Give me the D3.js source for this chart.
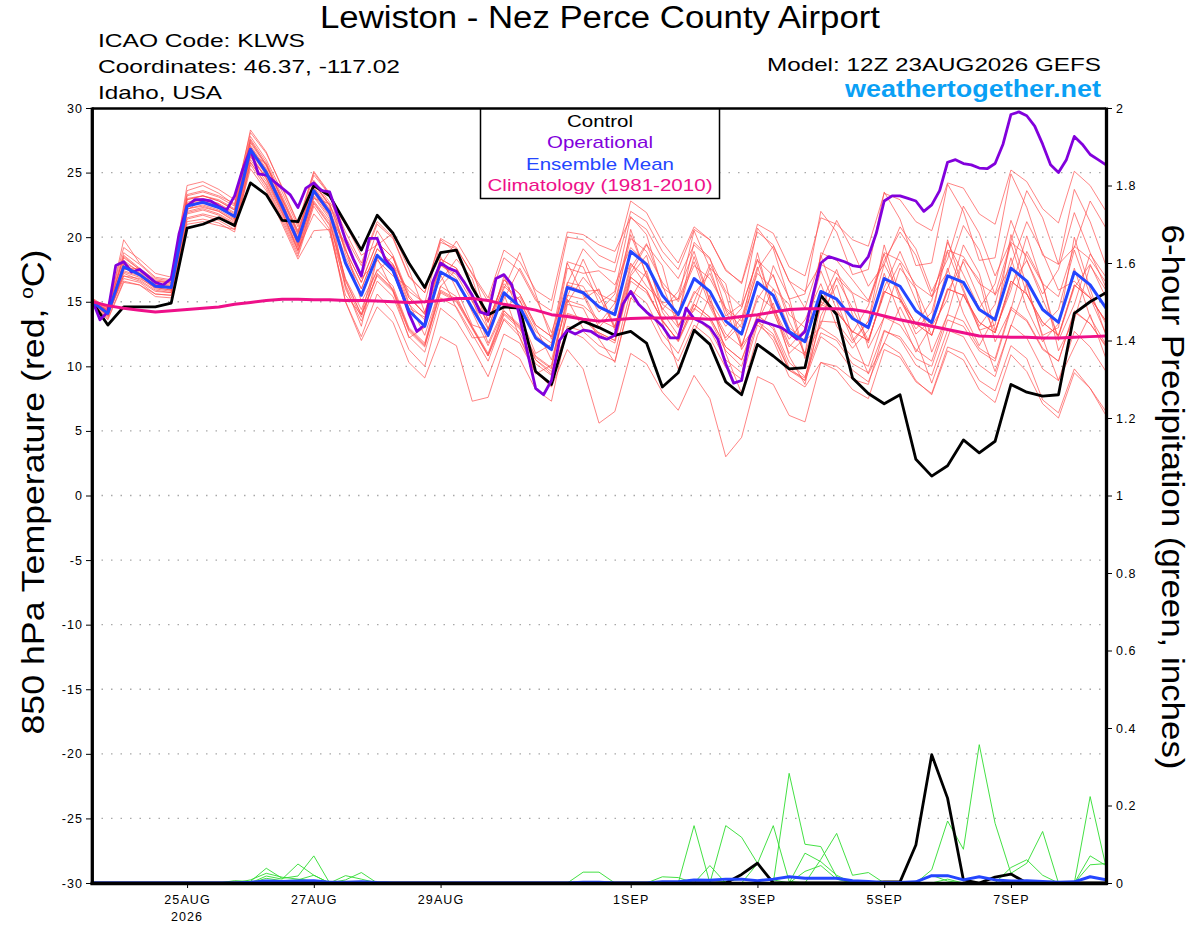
<!DOCTYPE html>
<html>
<head>
<meta charset="utf-8">
<script src="https://cdn.jsdelivr.net/npm/d3@7"></script>
<style>
    body { margin: 0; background: #fff; }
    svg { display: block; font-family: 'Liberation Sans', Arial, Helvetica, sans-serif; }
</style>
</head>
<body>
<svg id="chart" width="1200" height="927"></svg>
<script>
// run start 12Z 23AUG2026, 6-hourly ensemble, 3-hourly operational
var runStart = Date.UTC(2026, 7, 23, 12);
var runEnd = Date.UTC(2026, 8, 8, 12);

var dateTicks = [
    Date.UTC(2026, 7, 25), Date.UTC(2026, 7, 27), Date.UTC(2026, 7, 29),
    Date.UTC(2026, 8, 1), Date.UTC(2026, 8, 3), Date.UTC(2026, 8, 5), Date.UTC(2026, 8, 7)
];
var tempTicks = [30, 25, 20, 15, 10, 5, 0, -5, -10, -15, -20, -25, -30];
var gridValues = [25, 20, 15, 10, 5, 0, -5, -10, -15, -20, -25];
var precipTicks = [0, 0.2, 0.4, 0.6, 0.8, 1, 1.2, 1.4, 1.6, 1.8, 2];

var legendLabels = ['Control', 'Operational', 'Ensemble Mean', 'Climatology (1981-2010)'];

var controlTemp = [
    15.0, 13.2, 14.6, 14.6, 14.6, 14.9, 20.7, 21.0, 21.5, 20.9, 24.2, 23.3, 21.3, 21.2, 24.0, 23.2,
    21.1, 19.0, 21.7, 20.3, 18.0, 16.1, 18.8, 19.0, 16.1, 14.0, 14.6, 14.5, 9.6, 8.6, 12.8, 13.5,
    13.0, 12.4, 12.7, 11.8, 8.4, 9.5, 12.8, 11.7, 8.8, 7.8, 11.7, 10.8, 9.8, 9.9, 15.5, 14.0,
    9.1, 7.9, 7.1, 7.8, 2.8, 1.5, 2.3, 4.3, 3.3, 4.2, 8.6, 8.0, 7.7, 7.8, 14.1, 15.0, 15.7
];

var ensMeanTemp = [
    15.0, 14.1, 17.7, 17.1, 16.2, 16.1, 22.4, 22.7, 22.3, 21.6, 26.8, 25.0, 22.4, 19.7, 23.6, 21.9,
    18.0, 15.5, 18.6, 17.4, 14.3, 13.1, 17.3, 16.6, 14.5, 12.4, 15.7, 14.6, 12.2, 11.3, 16.1, 15.7,
    14.6, 14.0, 18.9, 17.9, 15.5, 14.0, 16.8, 15.8, 13.5, 12.5, 16.5, 15.5, 12.7, 11.9, 15.8, 15.2,
    13.7, 13.0, 16.8, 16.2, 14.3, 13.4, 17.0, 16.5, 14.4, 13.6, 17.6, 16.6, 14.4, 13.4, 17.3, 16.3, 14.5
];

var climatologyTemp = [
    15.0, 14.7, 14.5, 14.35, 14.2, 14.3, 14.4, 14.5, 14.6, 14.8, 14.95, 15.1, 15.2, 15.2, 15.15, 15.15,
    15.1, 15.1, 15.05, 15.0, 14.95, 15.0, 15.1, 15.25, 15.25, 15.1, 14.8, 14.6, 14.35, 14.0, 13.85, 13.65,
    13.5, 13.6, 13.7, 13.75, 13.75, 13.75, 13.7, 13.65, 13.7, 13.85, 14.0, 14.2, 14.4, 14.45, 14.45, 14.45,
    14.4, 14.2, 13.9, 13.6, 13.35, 13.1, 12.85, 12.6, 12.35, 12.3, 12.25, 12.25, 12.2, 12.2, 12.25, 12.3, 12.35
];

// operational run is 3-hourly
var operationalTemp = [
    15.2, 13.6, 14.2, 17.8, 18.1, 17.3, 17.5, 17.0, 16.5, 16.3,
    16.8, 20.3, 22.4, 22.9, 22.9, 22.8, 22.4, 22.1, 23.2, 25.2,
    26.8, 24.9, 24.8, 24.3, 23.8, 23.3, 22.3, 23.8, 24.2, 23.6,
    23.5, 21.7, 19.8, 18.3, 17.0, 19.9, 19.9, 18.3, 17.5, 15.9,
    14.1, 12.7, 13.2, 16.5, 18.0, 17.6, 17.35, 16.5, 15.5, 14.2,
    14.0, 16.8, 17.1, 16.3, 13.8, 11.0, 8.3, 7.8, 8.9, 12.0,
    12.8, 12.5, 12.8, 12.7, 12.3, 12.1, 12.4, 14.8, 15.8, 14.8,
    14.2, 13.7, 13.1, 12.2, 12.2, 14.5, 13.7, 13.4, 13.0, 12.1,
    10.2, 8.7, 8.9, 12.2, 13.6, 13.4, 13.2, 13.0, 12.6, 12.1,
    12.7, 15.5, 18.0, 18.5, 18.3, 18.1, 17.8, 17.7, 18.5, 20.3,
    22.8, 23.2, 23.2, 23.0, 22.8, 22.0, 22.5, 23.6, 25.8, 26.0,
    25.7, 25.6, 25.35, 25.3, 25.7, 27.2, 29.5, 29.7, 29.4, 28.6,
    27.2, 25.6, 25.0, 26.0, 27.8, 27.2, 26.4, 26.0, 25.6
];

var member01 = [
    15.2, 14.6, 19.2, 18.3, 17.2, 16.9, 23.6, 24.0, 23.4, 22.5, 28.3, 26.6, 23.8, 21.0, 25.0, 23.3,
    19.8, 16.9, 20.5, 18.6, 15.5, 14.0, 17.9, 16.8, 14.2, 11.6, 14.3, 13.0, 10.5, 9.4, 14.0, 13.6,
    12.5, 11.8, 16.6, 15.7, 13.6, 11.9, 14.5, 13.6, 11.2, 10.0, 13.9, 13.1, 10.3, 9.2, 12.6, 12.0,
    10.2, 9.5, 12.8, 12.1, 10.1, 9.3, 12.8, 12.3, 10.1, 9.2, 13.2, 12.2, 9.8, 8.9, 12.7, 11.5, 9.6
];
var member02 = [
    14.9, 13.9, 17.3, 16.9, 16.0, 15.8, 22.0, 22.3, 22.0, 21.2, 26.4, 24.6, 22.1, 19.4, 23.2, 21.6,
    19.5, 16.8, 18.2, 17.0, 16.1, 14.9, 16.6, 18.3, 16.8, 12.9, 15.2, 17.6, 15.3, 12.6, 16.4, 19.1,
    17.7, 17.3, 22.0, 21.2, 18.9, 17.5, 20.6, 19.8, 17.4, 16.5, 21.0, 20.3, 17.7, 17.0, 21.5, 21.0,
    19.8, 19.3, 23.4, 22.9, 21.2, 20.5, 24.2, 23.8, 21.8, 21.0, 25.2, 24.3, 22.2, 21.1, 25.1, 24.0, 22.0
];
var member03 = [
    15.0, 14.3, 17.0, 16.8, 16.1, 15.9, 21.8, 22.1, 21.7, 21.0, 26.0, 24.3, 21.8, 19.0, 22.8, 21.2,
    16.8, 14.4, 17.5, 16.2, 13.0, 11.8, 16.2, 15.4, 13.0, 10.8, 13.6, 12.3, 9.6, 8.4, 11.3, 9.8,
    5.6, 6.5, 11.0, 10.2, 8.0, 6.6, 9.3, 7.5, 3.0, 4.5, 9.2, 8.6, 6.2, 5.7, 10.3, 10.0,
    9.0, 8.6, 12.7, 12.3, 10.6, 10.0, 13.6, 13.1, 11.2, 10.4, 14.4, 13.5, 11.3, 10.4, 14.2, 13.3, 11.6
];
var member04 = [
    14.8, 13.8, 17.2, 16.7, 15.9, 15.7, 21.5, 21.8, 21.5, 20.8, 25.8, 24.1, 21.6, 18.9, 22.7, 21.0,
    16.7, 14.0, 17.1, 15.9, 12.8, 11.6, 15.8, 15.1, 13.0, 10.9, 14.1, 13.1, 10.7, 9.8, 15.5, 15.2,
    16.0, 12.8, 17.0, 18.6, 14.2, 12.4, 15.0, 17.9, 15.6, 11.3, 13.4, 16.0, 14.8, 10.6, 14.9, 17.5,
    14.0, 11.8, 16.1, 18.9, 16.0, 13.1, 15.2, 19.4, 17.2, 12.8, 15.9, 20.1, 16.3, 12.0, 14.8, 18.7, 16.9
];
var member05 = [
    15.1, 14.5, 18.4, 17.5, 16.6, 16.5, 22.9, 23.2, 22.8, 22.1, 27.4, 25.6, 23.0, 20.3, 24.2, 22.5,
    20.0, 17.8, 21.0, 19.9, 16.9, 15.7, 19.9, 19.2, 17.1, 15.0, 18.4, 17.4, 15.1, 14.3, 20.0, 19.8,
    18.6, 18.0, 22.8, 21.9, 19.6, 18.0, 20.8, 19.8, 17.5, 16.4, 20.4, 19.4, 16.6, 15.8, 17.9, 17.2,
    15.7, 15.0, 18.8, 18.2, 16.3, 15.4, 19.0, 18.5, 16.4, 15.6, 19.6, 18.6, 16.4, 15.4, 19.3, 18.3, 16.5
];
var member06 = [
    14.8, 13.6, 16.5, 16.3, 15.6, 15.5, 21.2, 21.4, 21.1, 20.4, 25.6, 23.8, 21.2, 18.5, 22.4, 20.6,
    15.0, 12.3, 15.6, 14.2, 11.3, 10.0, 14.5, 13.5, 11.5, 9.2, 12.5, 11.8, 9.5, 8.5, 14.8, 14.5,
    12.1, 10.3, 15.2, 17.4, 13.4, 9.8, 12.6, 15.5, 11.0, 7.9, 12.4, 14.9, 10.8, 8.6, 13.9, 16.3,
    12.3, 9.4, 11.8, 14.6, 12.1, 8.7, 12.2, 15.6, 12.9, 9.6, 13.1, 16.4, 12.2, 8.9, 11.5, 14.0, 10.6
];
var member07 = [
    15.1, 14.3, 18.0, 17.4, 16.4, 16.3, 23.2, 23.5, 23.1, 22.4, 27.6, 25.8, 23.2, 20.5, 24.4, 22.7,
    21.0, 18.6, 19.4, 20.3, 17.5, 14.2, 17.8, 19.7, 17.6, 13.5, 16.0, 18.8, 15.6, 12.1, 15.4, 18.3,
    15.6, 15.0, 19.9, 18.9, 16.5, 15.0, 17.8, 16.8, 14.5, 13.5, 17.2, 16.0, 13.0, 12.0, 13.0, 12.2,
    10.7, 10.0, 13.8, 13.2, 11.3, 10.4, 14.0, 13.5, 11.4, 10.6, 14.6, 13.6, 11.4, 10.4, 14.3, 13.3, 11.5
];
var member08 = [
    15.0, 14.0, 18.2, 17.3, 16.3, 16.2, 22.7, 23.0, 22.6, 21.9, 27.1, 25.3, 22.7, 20.0, 23.9, 22.2,
    18.0, 15.5, 18.6, 17.4, 14.3, 13.1, 17.3, 16.6, 14.5, 12.4, 15.7, 14.6, 12.2, 11.3, 17.6, 17.2,
    17.4, 16.3, 19.2, 18.0, 14.8, 13.9, 19.6, 18.4, 14.4, 13.0, 17.5, 19.3, 16.6, 14.5, 18.4, 21.3,
    19.0, 16.2, 17.9, 20.8, 19.1, 15.8, 18.3, 22.4, 20.3, 17.0, 19.7, 23.6, 21.5, 17.9, 19.2, 22.8, 20.7
];
var member09 = [
    14.9, 14.0, 17.0, 16.6, 15.8, 15.7, 21.4, 21.7, 21.3, 20.6, 25.8, 24.0, 21.4, 18.7, 22.6, 20.9,
    15.0, 12.0, 14.6, 13.4, 10.3, 9.1, 12.3, 11.6, 7.3, 7.6, 11.4, 10.6, 8.2, 7.3, 13.1, 12.7,
    11.6, 11.0, 15.9, 14.9, 12.5, 11.0, 13.8, 12.8, 10.5, 9.5, 13.5, 12.5, 9.7, 8.9, 14.8, 14.2,
    12.7, 12.0, 15.8, 15.2, 13.3, 12.4, 16.0, 15.5, 13.4, 12.6, 16.6, 15.6, 13.4, 12.4, 16.3, 15.3, 13.5
];
var member10 = [
    15.2, 14.4, 18.5, 17.5, 16.6, 16.4, 22.6, 22.9, 22.5, 21.8, 27.0, 25.2, 22.6, 19.9, 23.8, 22.1,
    19.0, 16.5, 19.6, 18.4, 15.3, 14.1, 18.3, 17.6, 15.5, 13.4, 16.7, 15.6, 13.2, 12.3, 18.1, 17.7,
    14.9, 15.8, 21.6, 20.2, 16.1, 15.2, 20.5, 17.6, 13.9, 14.8, 20.7, 19.1, 15.2, 15.6, 22.0, 20.4,
    17.1, 17.5, 23.5, 21.4, 17.8, 18.0, 24.1, 22.0, 18.2, 18.4, 24.9, 22.3, 18.6, 17.9, 23.7, 21.2, 17.8
];
var member11 = [
    15.1, 14.2, 17.9, 17.2, 16.3, 16.2, 22.9, 23.2, 22.8, 22.1, 27.3, 25.5, 22.9, 20.2, 24.1, 22.4,
    16.2, 13.1, 18.4, 15.8, 12.2, 13.0, 17.1, 14.5, 12.2, 12.3, 15.6, 12.2, 9.4, 10.1, 15.2, 12.9,
    12.6, 12.0, 16.9, 15.9, 13.5, 12.0, 14.8, 13.8, 11.5, 10.5, 13.5, 12.0, 9.2, 8.4, 10.3, 9.7,
    8.2, 7.5, 11.3, 10.7, 8.8, 7.9, 11.5, 11.0, 8.9, 8.1, 11.6, 10.6, 7.4, 6.4, 9.8, 8.3, 6.5
];
var member12 = [
    15.0, 14.2, 19.8, 18.0, 16.9, 16.7, 24.0, 24.3, 23.7, 22.9, 28.1, 26.5, 23.9, 21.1, 25.1, 23.4,
    18.7, 16.0, 19.1, 17.9, 14.8, 13.6, 17.8, 17.1, 15.0, 12.9, 16.2, 15.1, 12.7, 11.8, 16.1, 15.7,
    13.3, 14.9, 18.0, 16.2, 14.9, 15.2, 18.1, 14.6, 12.2, 13.8, 17.7, 14.2, 11.5, 12.9, 17.4, 14.4,
    12.6, 14.7, 18.7, 15.1, 12.9, 14.2, 18.9, 15.8, 13.1, 14.8, 19.5, 15.6, 13.1, 14.4, 19.0, 15.5, 13.3
];
var member13 = [
    14.9, 14.4, 17.5, 17.6, 16.5, 15.9, 22.1, 22.9, 22.6, 21.4, 26.5, 25.7, 22.8, 19.3, 23.0, 22.6,
    19.2, 15.0, 17.4, 18.5, 14.9, 12.4, 16.2, 17.5, 15.2, 11.8, 14.5, 15.4, 13.0, 10.5, 14.9, 16.9,
    15.4, 13.0, 17.6, 19.5, 16.3, 13.1, 15.6, 17.2, 14.3, 11.6, 15.2, 17.1, 13.5, 11.0, 14.6, 16.8,
    14.5, 12.0, 15.6, 18.0, 15.1, 12.4, 15.8, 18.1, 15.2, 12.6, 16.3, 18.2, 15.2, 12.3, 16.1, 17.9, 15.3
];
var member14 = [
    14.9, 14.1, 17.9, 17.2, 16.3, 16.1, 22.5, 22.8, 22.4, 21.7, 26.9, 25.1, 22.5, 19.8, 23.7, 22.0,
    18.4, 16.0, 19.1, 17.9, 15.8, 14.9, 19.6, 19.1, 17.2, 15.3, 19.0, 18.1, 15.9, 15.1, 20.4, 20.2,
    19.4, 18.9, 21.5, 20.6, 18.3, 16.8, 19.4, 18.3, 15.8, 14.6, 18.2, 17.0, 14.0, 13.0, 15.0, 14.2,
    12.7, 12.0, 15.8, 15.2, 13.3, 12.4, 16.0, 15.5, 13.4, 12.6, 16.6, 15.6, 13.4, 12.4, 16.3, 15.3, 13.5
];
var member15 = [
    15.2, 14.3, 17.6, 17.1, 16.2, 16.1, 22.2, 22.5, 22.1, 21.4, 26.6, 24.8, 22.2, 19.5, 23.4, 21.7,
    16.6, 14.0, 17.0, 15.8, 12.7, 11.5, 15.7, 15.0, 12.9, 10.8, 14.0, 12.9, 10.5, 9.6, 12.8, 12.2,
    11.0, 10.4, 15.3, 14.3, 11.9, 10.4, 13.2, 12.2, 9.9, 9.0, 13.2, 12.3, 9.7, 9.1, 13.5, 13.4,
    11.8, 13.5, 17.9, 15.6, 13.2, 15.1, 19.6, 17.1, 14.5, 16.4, 21.3, 18.2, 15.6, 17.5, 21.9, 18.8, 16.1
];
var member16 = [
    14.9, 13.9, 17.4, 17.0, 16.1, 15.9, 21.9, 22.2, 21.8, 21.1, 26.3, 24.5, 21.9, 19.2, 23.1, 21.4,
    16.0, 13.5, 16.6, 15.4, 12.3, 11.1, 15.3, 14.6, 12.5, 10.4, 13.7, 12.6, 10.2, 9.3, 14.1, 13.7,
    12.6, 12.0, 16.9, 15.9, 13.5, 12.0, 14.8, 13.8, 11.5, 10.5, 14.0, 12.9, 9.9, 8.9, 12.3, 11.4,
    9.7, 8.8, 11.8, 11.0, 8.9, 7.8, 11.2, 10.5, 8.2, 7.2, 10.9, 9.6, 7.1, 6.0, 9.5, 8.3, 6.2
];
var member17 = [
    15.3, 14.5, 18.8, 17.9, 16.8, 16.6, 23.3, 23.6, 23.2, 22.6, 27.8, 26.0, 23.5, 20.8, 24.8, 23.3,
    20.4, 18.0, 21.2, 20.0, 17.0, 15.7, 19.8, 18.8, 16.3, 13.6, 16.4, 15.1, 12.4, 11.4, 16.3, 15.8,
    15.9, 13.1, 17.2, 19.4, 17.8, 13.2, 14.3, 17.6, 16.4, 11.6, 13.3, 17.8, 15.3, 10.8, 13.2, 16.9,
    15.6, 11.4, 13.8, 17.6, 16.0, 11.1, 14.0, 18.3, 16.7, 11.9, 14.4, 18.9, 16.5, 11.2, 13.6, 17.8, 15.9
];
var member18 = [
    14.9, 14.0, 16.8, 16.5, 15.6, 15.5, 22.2, 22.4, 22.0, 21.3, 26.2, 24.6, 22.0, 19.0, 21.8, 20.4,
    15.5, 14.0, 18.5, 17.8, 14.5, 13.8, 18.5, 16.0, 13.2, 12.8, 17.0, 14.0, 11.0, 11.7, 18.0, 15.5,
    13.0, 14.5, 20.6, 17.0, 13.6, 14.0, 18.5, 15.0, 12.0, 13.3, 18.8, 14.3, 11.0, 12.2, 18.6, 15.0,
    12.0, 13.5, 19.4, 15.4, 12.5, 13.6, 19.8, 16.0, 12.8, 13.2, 20.2, 16.2, 12.4, 13.0, 20.0, 16.0, 12.4
];
var member19 = [
    14.8, 13.7, 16.6, 16.3, 15.4, 15.3, 21.0, 21.2, 20.9, 20.6, 25.3, 23.6, 21.0, 18.3, 20.5, 20.6,
    16.3, 13.8, 17.2, 16.0, 12.9, 11.7, 15.9, 15.2, 13.1, 11.0, 14.3, 13.2, 10.8, 9.9, 16.5, 16.2,
    14.2, 15.6, 20.2, 17.1, 14.4, 15.8, 18.9, 15.1, 13.1, 14.5, 18.3, 14.6, 12.1, 13.6, 16.4, 13.1,
    11.4, 12.8, 17.2, 13.9, 11.1, 13.2, 17.6, 14.1, 11.6, 13.9, 18.4, 14.5, 11.9, 13.3, 17.6, 13.8, 11.7
];
var member20 = [
    15.1, 14.2, 18.6, 17.6, 16.7, 16.5, 23.0, 23.2, 22.9, 22.2, 27.5, 25.6, 23.0, 20.4, 24.2, 22.5,
    19.0, 16.5, 19.6, 18.4, 15.3, 14.1, 18.3, 17.6, 15.5, 13.4, 16.7, 15.6, 13.2, 12.3, 15.1, 14.7,
    13.6, 13.0, 17.9, 16.9, 14.5, 13.0, 15.8, 14.8, 12.5, 11.5, 15.5, 14.5, 11.7, 10.9, 18.8, 18.2,
    16.7, 15.1, 18.2, 20.4, 18.6, 15.4, 17.3, 20.9, 19.0, 15.5, 17.8, 21.2, 18.8, 15.9, 16.6, 15.3, 12.5
];

var members = [member01, member02, member03, member04, member05, member06, member07, member08, member09, member10,
    member11, member12, member13, member14, member15, member16, member17, member18, member19, member20];

// 6-hour precipitation, inches
var controlPrecip = [
    0, 0, 0, 0, 0, 0, 0, 0, 0, 0,
    0, 0, 0, 0, 0, 0, 0, 0, 0, 0,
    0, 0, 0, 0, 0, 0, 0, 0, 0, 0,
    0, 0, 0, 0, 0, 0, 0, 0, 0, 0,
    0, 0.022, 0.051, 0, 0, 0, 0, 0, 0, 0,
    0.003, 0.003, 0.098, 0.331, 0.219, 0.008, 0, 0.015, 0.023, 0,
    0, 0, 0, 0, 0
];
var ensMeanPrecip = [
    0, 0, 0, 0, 0, 0, 0, 0, 0, 0,
    0.002, 0.005, 0.004, 0.005, 0.006, 0.002, 0.002, 0.003, 0.001, 0,
    0, 0, 0, 0, 0, 0, 0, 0, 0, 0,
    0, 0.002, 0.002, 0, 0, 0, 0.003, 0.003, 0.008, 0.007,
    0.01, 0.01, 0.006, 0.01, 0.016, 0.012, 0.012, 0.012, 0.006, 0.004,
    0.001, 0.001, 0.003, 0.019, 0.019, 0.008, 0.016, 0.008, 0.005, 0.006,
    0.004, 0.002, 0.003, 0.016, 0.008
];
var precipMember01 = [
    0, 0, 0, 0, 0, 0, 0, 0, 0, 0.006,
    0.004, 0.038, 0.012, 0.018, 0.070, 0, 0, 0, 0, 0,
    0, 0, 0, 0, 0, 0, 0, 0, 0, 0,
    0, 0.028, 0.028, 0, 0, 0, 0, 0, 0.148, 0,
    0, 0, 0, 0, 0.283, 0.100, 0.094, 0.016, 0, 0,
    0, 0, 0, 0.034, 0.160, 0.087, 0.357, 0.154, 0.025, 0.051,
    0.133, 0, 0, 0, 0
];
var precipMember02 = [
    0, 0, 0, 0, 0, 0, 0, 0, 0, 0,
    0, 0.018, 0.010, 0.049, 0.020, 0, 0.019, 0.010, 0, 0,
    0, 0, 0, 0, 0, 0, 0, 0, 0, 0,
    0, 0, 0, 0, 0, 0, 0.016, 0.014, 0, 0.045,
    0, 0, 0.050, 0.148, 0.004, 0, 0.061, 0.128, 0.020, 0.027,
    0, 0, 0, 0.020, 0.005, 0, 0, 0, 0.040, 0.060,
    0.020, 0, 0, 0.223, 0.042
];
var precipMember03 = [
    0, 0, 0, 0, 0, 0, 0, 0, 0, 0,
    0.008, 0.025, 0.015, 0.010, 0.005, 0, 0.008, 0.027, 0, 0,
    0, 0, 0, 0, 0, 0, 0, 0, 0, 0,
    0, 0, 0, 0, 0, 0, 0, 0, 0, 0,
    0.148, 0.118, 0.051, 0, 0, 0.077, 0.055, 0.020, 0, 0,
    0, 0, 0, 0, 0.010, 0, 0, 0, 0, 0,
    0, 0, 0, 0.070, 0.045
];
var precipMember04 = [
    0, 0, 0, 0, 0, 0, 0, 0, 0, 0,
    0, 0.012, 0.006, 0.008, 0.020, 0, 0, 0, 0, 0,
    0, 0, 0, 0, 0, 0, 0, 0, 0, 0,
    0, 0, 0, 0, 0, 0, 0, 0, 0, 0,
    0.004, 0.010, 0.006, 0.008, 0, 0.030, 0.045, 0.010, 0, 0,
    0, 0, 0, 0, 0, 0, 0, 0, 0, 0,
    0, 0, 0, 0.047, 0.050
];
var precipMembers = [precipMember01, precipMember02, precipMember03, precipMember04];

var COLORS = {
    member: '#ff4a4a',
    precip: '#2fdc2f',
    control: '#000000',
    operational: '#8200dc',
    mean: '#2446ff',
    climatology: '#ee1089',
    site: '#0aa0f5',
    grid: '#a8a8a8'
};

var plotLeft = 92,
    plotRight = 1106,
    plotTop = 108,
    plotBottom = 883;

var svg = d3.select('#chart');

var x = d3.scaleUtc()
    .domain([new Date(runStart), new Date(runEnd)])
    .range([plotLeft, plotRight]);
var yT = d3.scaleLinear().domain([-30, 30]).range([plotBottom, plotTop]);
var yP = d3.scaleLinear().domain([0, 2]).range([plotBottom, plotTop]);

function stepTime(hours) {
    return function (i) {
        return new Date(runStart + i * hours * 3600000);
    };
}
var t6 = stepTime(6),
    t3 = stepTime(3);

var tempLine = d3.line()
    .x(function (d, i) { return x(t6(i)); })
    .y(function (d) { return yT(d); });
var opLine = d3.line()
    .x(function (d, i) { return x(t3(i)); })
    .y(function (d) { return yT(d); });
var precipLine = d3.line()
    .x(function (d, i) { return x(t6(i)); })
    .y(function (d) { return yP(d); });

svg.append('defs').append('clipPath')
    .attr('id', 'plot-clip')
    .append('rect')
    .attr('x', plotLeft)
    .attr('y', plotTop)
    .attr('width', plotRight - plotLeft)
    .attr('height', plotBottom - plotTop);

// dotted grid
svg.append('g')
    .attr('class', 'grid')
    .selectAll('line')
    .data(gridValues)
    .enter().append('line')
    .attr('x1', plotLeft)
    .attr('x2', plotRight)
    .attr('y1', function (d) { return yT(d); })
    .attr('y2', function (d) { return yT(d); })
    .style('stroke', COLORS.grid)
    .style('stroke-width', 1.3)
    .style('stroke-dasharray', '1.5,8');

var plot = svg.append('g')
    .attr('class', 'plot')
    .attr('clip-path', 'url(#plot-clip)')
    .style('fill', 'none')
    .style('stroke-linejoin', 'round')
    .style('stroke-linecap', 'round');

plot.selectAll('.member')
    .data(members)
    .enter().append('path')
    .attr('class', 'member')
    .attr('d', tempLine)
    .style('stroke', COLORS.member)
    .style('stroke-width', 0.75)
    .style('stroke-opacity', 0.9);

plot.selectAll('.precip-member')
    .data(precipMembers)
    .enter().append('path')
    .attr('class', 'precip-member')
    .attr('d', precipLine)
    .style('stroke', COLORS.precip)
    .style('stroke-width', 0.9);

plot.append('path')
    .attr('d', precipLine(controlPrecip))
    .style('stroke', COLORS.control)
    .style('stroke-width', 2.8);

plot.append('path')
    .attr('d', precipLine(ensMeanPrecip))
    .style('stroke', COLORS.mean)
    .style('stroke-width', 3);

plot.append('path')
    .attr('d', tempLine(controlTemp))
    .style('stroke', COLORS.control)
    .style('stroke-width', 2.8);

plot.append('path')
    .attr('d', opLine(operationalTemp))
    .style('stroke', COLORS.operational)
    .style('stroke-width', 2.8);

plot.append('path')
    .attr('d', tempLine(ensMeanTemp))
    .style('stroke', COLORS.mean)
    .style('stroke-width', 3);

plot.append('path')
    .attr('d', tempLine(climatologyTemp))
    .style('stroke', COLORS.climatology)
    .style('stroke-width', 3);

// axes
var tickFont = function (g) {
    g.selectAll('text')
        .style('font-size', '12.5px')
        .style('letter-spacing', '1.1px')
        .style('fill', '#000');
    g.selectAll('line').style('stroke', '#000').style('stroke-width', 1);
    g.select('.domain').remove();
};

svg.append('g')
    .attr('transform', 'translate(' + plotLeft + ',0)')
    .call(d3.axisLeft(yT)
        .tickValues(tempTicks)
        .tickSize(6)
        .tickPadding(3)
        .tickFormat(function (d) { return String(d); }))
    .call(tickFont);

svg.append('g')
    .attr('transform', 'translate(' + plotRight + ',0)')
    .call(d3.axisRight(yP)
        .tickValues(precipTicks)
        .tickSize(6)
        .tickPadding(4)
        .tickFormat(function (d) { return String(d); }))
    .call(tickFont);

var xAxis = svg.append('g')
    .attr('transform', 'translate(0,' + plotBottom + ')')
    .call(d3.axisBottom(x)
        .tickValues(dateTicks.map(function (d) { return new Date(d); }))
        .tickSize(5)
        .tickPadding(7)
        .tickFormat(function (d) { return d3.utcFormat('%-d%b')(d).toUpperCase(); }))
    .call(tickFont);

svg.append('text')
    .attr('x', x(new Date(dateTicks[0])))
    .attr('y', 921)
    .attr('text-anchor', 'middle')
    .style('font-size', '12.5px')
    .style('letter-spacing', '1.1px')
    .text('2026');

// frame
var frame = svg.append('g').attr('class', 'frame').style('stroke', '#000');
frame.append('line').attr('x1', plotLeft).attr('x2', plotRight).attr('y1', plotTop + 0.5).attr('y2', plotTop + 0.5).style('stroke-width', 2.4);
frame.append('line').attr('x1', plotLeft - 1.5).attr('x2', plotRight + 1.5).attr('y1', plotBottom + 0.5).attr('y2', plotBottom + 0.5).style('stroke-width', 3.3);
frame.append('line').attr('x1', plotLeft + 0.3).attr('x2', plotLeft + 0.3).attr('y1', plotTop - 0.5).attr('y2', plotBottom + 2).style('stroke-width', 3.3);
frame.append('line').attr('x1', plotRight + 0.5).attr('x2', plotRight + 0.5).attr('y1', plotTop - 0.5).attr('y2', plotBottom + 2).style('stroke-width', 3.3);

// legend box
var legend = svg.append('g').attr('class', 'legend');
legend.append('rect')
    .attr('x', 480.5)
    .attr('y', plotTop + 1)
    .attr('width', 239)
    .attr('height', 89.5)
    .style('fill', '#fff')
    .style('stroke', '#000')
    .style('stroke-width', 1.5);

var legendColors = [COLORS.control, COLORS.operational, COLORS.mean, COLORS.climatology],
    legendWidths = [66, 106, 148, 225];

legend.selectAll('.item')
    .data(legendLabels)
    .enter().append('text')
    .attr('class', 'item')
    .attr('x', 600)
    .attr('y', function (d, i) { return 127 + i * 21.3; })
    .attr('text-anchor', 'middle')
    .attr('textLength', function (d, i) { return legendWidths[i]; })
    .attr('lengthAdjust', 'spacingAndGlyphs')
    .style('font-size', '17px')
    .style('fill', function (d, i) { return legendColors[i]; })
    .text(function (d) { return d; });

// header
function headerText(txt, xPos, yPos, size, len, anchor) {
    return svg.append('text')
        .attr('x', xPos)
        .attr('y', yPos)
        .attr('text-anchor', anchor)
        .attr('textLength', len)
        .attr('lengthAdjust', 'spacingAndGlyphs')
        .style('font-size', size + 'px')
        .text(txt);
}

headerText('Lewiston - Nez Perce County Airport', 600, 28, 31, 560, 'middle');
headerText('ICAO Code: KLWS', 98, 47, 19, 207, 'start');
headerText('Coordinates: 46.37, -117.02', 98, 73, 19, 302, 'start');
headerText('Idaho, USA', 98, 99, 19, 124, 'start');
headerText('Model: 12Z 23AUG2026 GEFS', 1101, 71, 19, 334, 'end');
headerText('weathertogether.net', 1101, 97, 23, 256, 'end')
    .style('font-weight', 'bold')
    .style('fill', COLORS.site);

// axis titles
var leftTitle = svg.append('text')
    .attr('transform', 'translate(44,492) rotate(-90)')
    .attr('text-anchor', 'middle')
    .attr('textLength', 485)
    .attr('lengthAdjust', 'spacingAndGlyphs')
    .style('font-size', '31px');
leftTitle.append('tspan').text('850 hPa Temperature (red, ');
leftTitle.append('tspan').attr('dy', -11).style('font-size', '18px').text('o');
leftTitle.append('tspan').attr('dy', 11).text('C)');

svg.append('text')
    .attr('transform', 'translate(1162,497) rotate(90)')
    .attr('text-anchor', 'middle')
    .attr('textLength', 545)
    .attr('lengthAdjust', 'spacingAndGlyphs')
    .style('font-size', '31px')
    .text('6-hour Precipitation (green, inches)');
</script>
</body>
</html>
